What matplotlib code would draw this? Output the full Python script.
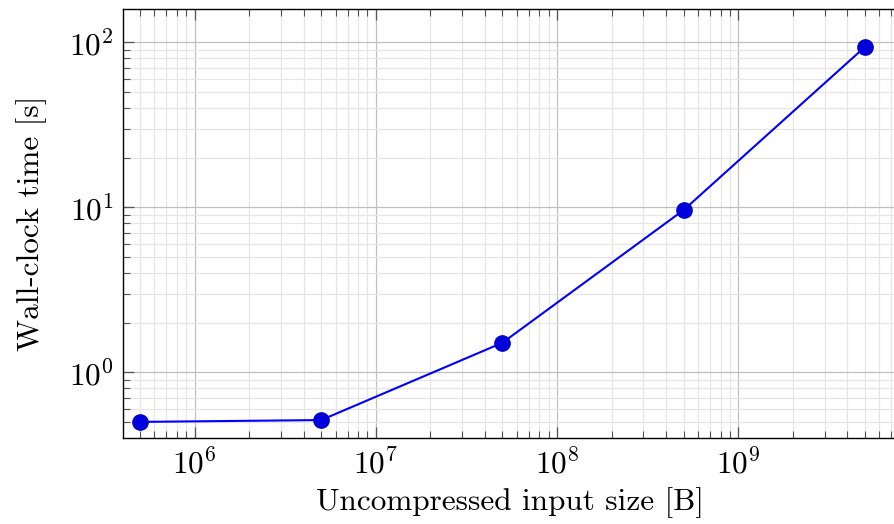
import numpy as np
import matplotlib
matplotlib.use('Agg')
import matplotlib.pyplot as plt
from matplotlib.ticker import LogLocator, NullFormatter

plt.rcParams['font.family'] = 'cmr10'
plt.rcParams['mathtext.fontset'] = 'cm'
plt.rcParams['axes.formatter.use_mathtext'] = True

# input sizes [B] and wall-clock times [s]
input_size = [5e5, 5e6, 5e7, 5e8, 5e9]
wall_time = [0.50, 0.513, 1.51, 9.64, 94.0]


def main():
    fig = plt.figure(figsize=(8.94, 5.24), dpi=100)
    ax = fig.add_axes([0.138, 0.1647, 1.002 - 0.138, 0.9823 - 0.1647])

    ax.plot(input_size, wall_time, '-', color='#0000ff', lw=1.5, zorder=3)
    ax.plot(input_size, wall_time, 'o', color='#0000dd', mec='#0000cc',
            ms=11, zorder=4, clip_on=False)

    ax.set_xscale('log')
    ax.set_yscale('log')
    ax.set_xlim(4.05e5, 7.4e9)
    ax.set_ylim(0.401, 159)

    for axis in (ax.xaxis, ax.yaxis):
        axis.set_major_locator(LogLocator(base=10, numticks=20))
        axis.set_minor_locator(LogLocator(base=10, subs=np.arange(2, 10), numticks=20))
        axis.set_minor_formatter(NullFormatter())

    ax.grid(True, which='major', color='#c0c0c0', lw=0.9)
    ax.grid(True, which='minor', color='#e6e6e6', lw=0.9)
    ax.set_axisbelow(True)

    ax.tick_params(which='both', direction='in', top=True, right=False,
                   color='#555555', labelsize=22.5)
    ax.tick_params(which='major', length=8, width=0.9, pad=7)
    ax.tick_params(which='minor', length=5, width=0.8)

    for s in ax.spines.values():
        s.set_linewidth(1.0)
    ax.spines['right'].set_visible(False)

    ax.set_xlabel('Uncompressed input size [B]', fontsize=22.5, labelpad=6)
    ax.set_ylabel('Wall-clock time [s]', fontsize=22.5, labelpad=16)

    fig.savefig('out.png', dpi=100)


if __name__ == '__main__':
    main()
